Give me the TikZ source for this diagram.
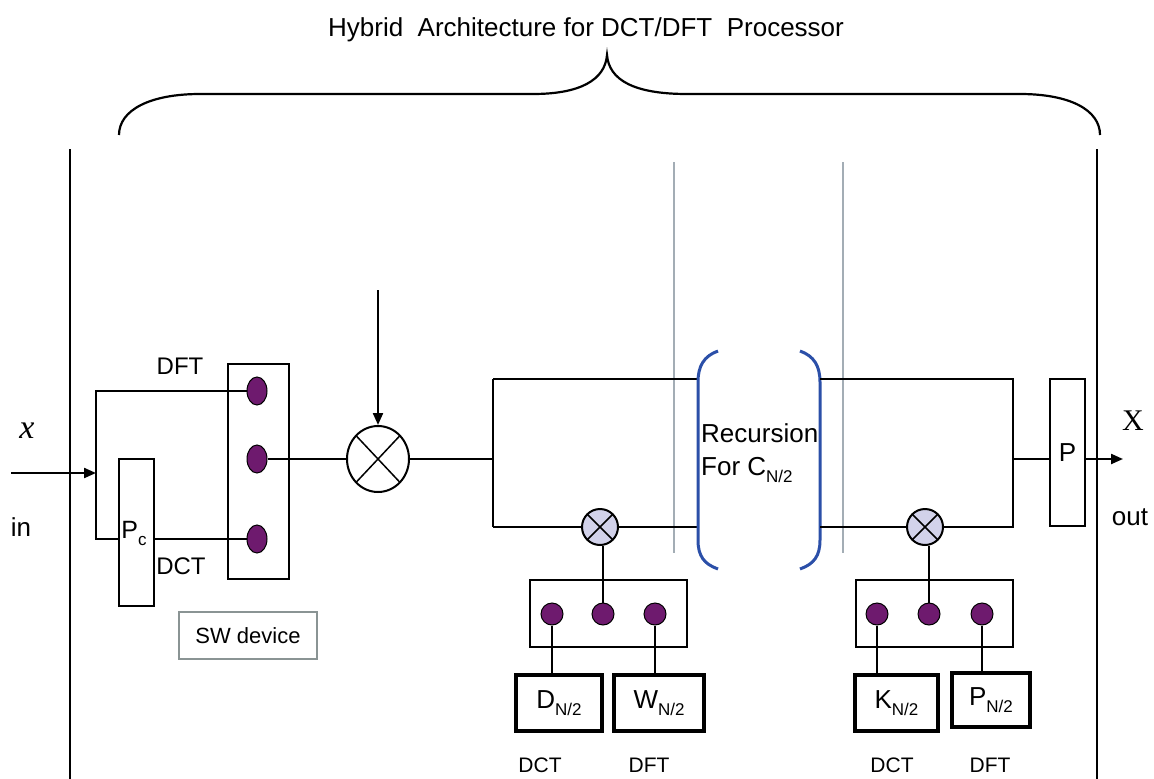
\documentclass[tikz,border=0pt]{standalone}
\usepackage{fontspec}
\setmainfont{Liberation Sans}
\newfontfamily\serifx{Liberation Serif}
\usetikzlibrary{arrows.meta,shapes.geometric}
\definecolor{dotpurple}{HTML}{6E1A6E}
\definecolor{lav}{HTML}{D2D2EA}
\definecolor{parblue}{HTML}{2B4FA8}
\definecolor{guide}{HTML}{A3ADB5}
\definecolor{swgray}{HTML}{8A9494}
\newcommand{\fs}[1]{\fontsize{#1}{#1}\selectfont}
\newcommand{\sbs}[1]{\raisebox{-0.28em}{\fs{17}#1}}
\tikzset{
  wire/.style={line width=2.2pt, black},
  arr/.style={wire, -{Triangle[length=12pt,width=10pt]}},
  plainbox/.style={draw, line width=2pt, inner sep=0pt},
  thickbox/.style={draw, line width=4.5pt, inner sep=0pt, minimum height=56pt},
  sdot/.style={ellipse, draw=black, line width=1pt, fill=dotpurple, minimum width=20pt, minimum height=28pt, inner sep=0pt},
  rdot/.style={circle, draw=black, line width=1pt, fill=dotpurple, minimum size=22pt, inner sep=0pt},
  mult/.style={draw, line width=2pt, inner sep=0pt,
    path picture={\draw[line width=1.5pt] (path picture bounding box.south west) -- (path picture bounding box.north east)
      (path picture bounding box.north west) -- (path picture bounding box.south east);}},
  lbl/.style={inner sep=0pt, font=\fs{24}},
}
\begin{document}
\begin{tikzpicture}[x=1pt,y=-1pt]
\useasboundingbox (0,0) rectangle (1154,779);

% title and brace
\node[lbl, font=\fs{26}] (title) at (586,30) {Hybrid\ \ Architecture for DCT/DFT\ \ Processor};
\draw[line width=2.2pt] (119,135) .. controls (119,110) and (150,94) .. (200,94) -- (533,94)
  .. controls (580,94) and (605,80) .. (607,55)
  .. controls (609,80) and (634,94) .. (687,94) -- (1020,94)
  .. controls (1070,94) and (1100,110) .. (1100,135);

% outer vertical lines
\draw[wire] (70,149) -- (70,779);
\draw[wire] (1097,149) -- (1097,779);

% guide lines
\draw[guide, line width=1.2pt] (674,162) -- (674,553);
\draw[guide, line width=1.2pt] (843,162) -- (843,553);

% input
\node[inner sep=0pt, font=\fs{34}\serifx\itshape] (xin) at (27,431) {x};
\node[lbl, font=\fs{26}] (inl) at (21,527) {in};
\coordinate (src) at (11,473);
\coordinate (jn) at (96,473);
\coordinate (jt) at (96,391);
\coordinate (jb) at (96,539);
\draw[arr] (src) -- (jn);

% switch and Pc
\node[plainbox, minimum width=61pt, minimum height=215pt] (sw) at (258.5,471.5) {};
\node[plainbox, minimum width=35pt, minimum height=147pt] (pc) at (136.5,532.5) {};
\node[lbl, font=\fs{25}] (pcl) at (134,533) {P\sbs{c}};
\node[sdot] (d1) at (257,391) {};
\node[sdot] (d2) at (257,459) {};
\node[sdot] (d3) at (257,539) {};
\draw[wire] (d1.west) -- (jt) -- (jb) -- (jb -| pc.west);
\draw[wire] (pc.east |- jb) -- (d3.west);
\node[lbl] (dftl) at (180,366) {DFT};
\node[lbl] (dctl) at (181,566) {DCT};
\node[draw=swgray, line width=1.4pt, minimum width=138pt, minimum height=47pt, inner sep=0pt, font=\fs{22}] (swd) at (248,635.5) {SW device};

% main multiplier
\node[ellipse, mult, minimum width=62pt, minimum height=66pt] (m1) at (378,459) {};
\coordinate (ctl) at (378,290);
\draw[arr] (ctl) -- (m1.north);
\draw[wire] (d2.east) -- (m1.west);
\coordinate (jL) at (493,459);
\coordinate (jL1) at (493,379);
\coordinate (jL2) at (493,527);
\draw[wire] (m1.east) -- (jL);
\draw[wire] (jL1) -- (jL2);

% left stage
\coordinate (pl1) at (698,379);
\coordinate (pl2) at (698,527);
\node[circle, mult, fill=lav, minimum size=36pt] (c1) at (600,527) {};
\draw[wire] (jL1) -- (pl1);
\draw[wire] (jL2) -- (c1.west);
\draw[wire] (c1.east) -- (pl2);
\node[plainbox, minimum width=157pt, minimum height=67pt] (lb1) at (608.5,613.5) {};
\node[rdot] (e1) at (552,614) {};
\node[rdot] (e2) at (603,614) {};
\node[rdot] (e3) at (655,614) {};
\draw[wire] (e2) -- (e2 |- c1.south);
\node[thickbox, minimum width=86pt, font=\fs{26}] (dn) at (559,703) {D\sbs{N/2}};
\node[thickbox, minimum width=90pt, font=\fs{26}] (wn) at (659,703) {W\sbs{N/2}};
\draw[wire] (e1) -- (e1 |- dn.north);
\draw[wire] (e3) -- (e3 |- wn.north);
\node[lbl, font=\fs{21}] (dct1) at (540,765) {DCT};
\node[lbl, font=\fs{21}] (dft1) at (649,765) {DFT};

% recursion
\draw[parblue, line width=3pt] (718,351) .. controls (704,356) and (698,366) .. (698,382) -- (698,540)
  .. controls (698,556) and (704,564) .. (718,569);
\draw[parblue, line width=3pt] (800,351) .. controls (814,356) and (820,366) .. (820,382) -- (820,540)
  .. controls (820,556) and (814,564) .. (800,569);
\node[lbl, font=\fs{26}, anchor=west] (rec1) at (701,433) {Recursion};
\node[lbl, font=\fs{26}, anchor=west] (rec2) at (701,470) {For C\sbs{N/2}};

% right stage
\coordinate (pr1) at (820,379);
\coordinate (pr2) at (820,527);
\coordinate (jR1) at (1013,379);
\coordinate (jR2) at (1013,527);
\coordinate (jRm) at (1013,459);
\node[circle, mult, fill=lav, minimum size=36pt] (c2) at (925,527) {};
\draw[wire] (pr1) -- (jR1) -- (jR2) -- (c2.east);
\draw[wire] (c2.west) -- (pr2);
\node[plainbox, minimum width=157pt, minimum height=67pt] (lb2) at (934.5,613.5) {};
\node[rdot] (f1) at (877,614) {};
\node[rdot] (f2) at (929,614) {};
\node[rdot] (f3) at (982,614) {};
\draw[wire] (f2) -- (f2 |- c2.south);
\node[thickbox, minimum width=83pt, font=\fs{26}] (kn) at (896.5,703) {K\sbs{N/2}};
\node[thickbox, minimum width=78pt, minimum height=54pt, font=\fs{26}] (pn) at (991,700) {P\sbs{N/2}};
\draw[wire] (f1) -- (f1 |- kn.north);
\draw[wire] (f3) -- (f3 |- pn.north);
\node[lbl, font=\fs{21}] (dct2) at (892,765) {DCT};
\node[lbl, font=\fs{21}] (dft2) at (990,765) {DFT};

% output
\node[plainbox, minimum width=35pt, minimum height=147pt, font=\fs{26}] (pbox) at (1067.5,452.5) {P};
\draw[wire] (jRm) -- (jRm -| pbox.west);
\coordinate (dst) at (1123,459);
\draw[arr] (pbox.east |- jRm) -- (dst);
\node[inner sep=0pt, font=\fs{30}\serifx] (xout) at (1133,421) {X};
\node[lbl, font=\fs{26}] (outl) at (1130,517) {out};
\end{tikzpicture}
\end{document}
